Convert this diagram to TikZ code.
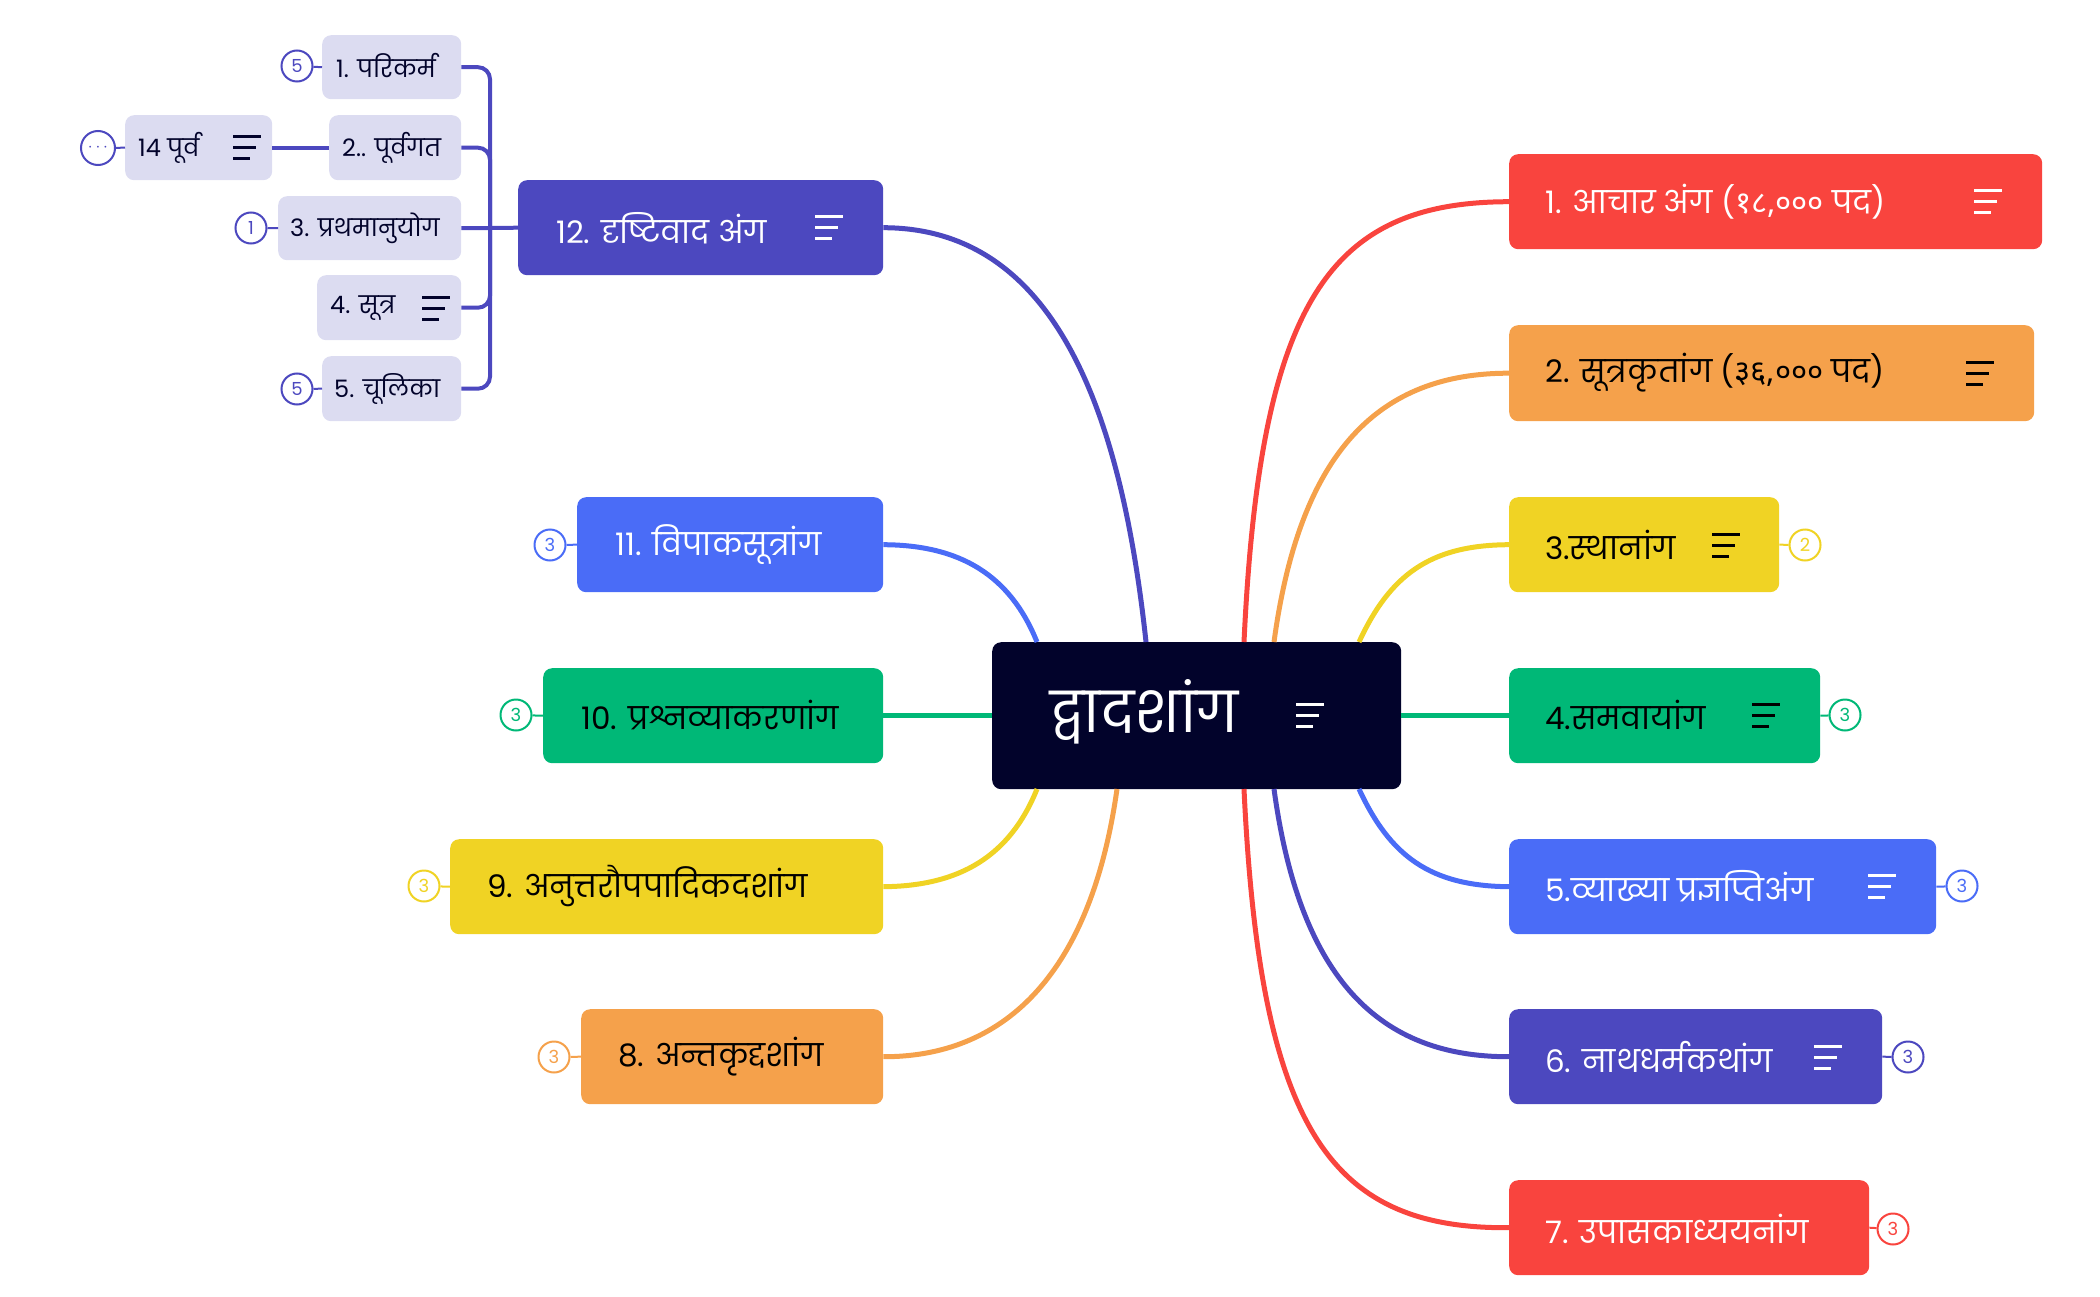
\documentclass[tikz,border=0pt]{standalone}
\usepackage{fontspec}
\setmainfont[Script=Devanagari]{Poppins}
\newfontfamily\devnum[Script=Devanagari]{Noto Sans}
\definecolor{cred}{HTML}{F9443E}
\definecolor{corange}{HTML}{F5A14B}
\definecolor{cyellow}{HTML}{F0D324}
\definecolor{cgreen}{HTML}{00B877}
\definecolor{cblue}{HTML}{4A6CF7}
\definecolor{cindigo}{HTML}{4C48BF}
\definecolor{cnavy}{HTML}{02032B}
\definecolor{csub}{HTML}{DCDCF1}
\tikzset{
  box/.style={fill=#1, draw=none, rounded corners=9pt, inner sep=0pt, anchor=north west},
  lbl/.style={anchor=west, inner sep=0pt, text=#1, font=\fontsize{31}{36}\selectfont},
  slbl/.style={anchor=west, inner sep=0pt, text=cnavy, font=\fontsize{24}{28}\selectfont},
  badge/.style={circle, draw=#1, fill=white, line width=2pt, minimum size=31pt, inner sep=0pt, text=#1, font=\fontsize{18}{20}\selectfont},
  conn/.style={draw=#1, line width=5pt},
  sconn/.style={draw=cindigo, line width=4pt, rounded corners=12pt},
}
\newcommand{\menuic}[3]{% x y colour
  \draw[#3, line width=3pt] (#1-14,#2-11) -- (#1+14,#2-11) (#1-14,#2) -- (#1+9,#2) (#1-14,#2+11) -- (#1+3,#2+11);}
\begin{document}
\begin{tikzpicture}[x=1pt,y=-1pt]
\useasboundingbox (0,0) rectangle (2100,1297);
\node[box=cnavy, minimum width=409pt, minimum height=147pt] (c) at (992,642) {};
\node[box=cred, minimum width=533pt, minimum height=95pt] (r1) at (1509,154) {};
\node[box=corange, minimum width=525pt, minimum height=96pt] (r2) at (1509,325) {};
\node[box=cyellow, minimum width=270pt, minimum height=95pt] (r3) at (1509,497) {};
\node[box=cgreen, minimum width=311pt, minimum height=95pt] (r4) at (1509,668) {};
\node[box=cblue, minimum width=427pt, minimum height=95pt] (r5) at (1509,839) {};
\node[box=cindigo, minimum width=373pt, minimum height=95pt] (r6) at (1509,1009) {};
\node[box=cred, minimum width=360pt, minimum height=95pt] (r7) at (1509,1180) {};
\node[box=cindigo, minimum width=365pt, minimum height=95pt] (l12) at (518,180) {};
\node[box=cblue, minimum width=306pt, minimum height=95pt] (l11) at (577,497) {};
\node[box=cgreen, minimum width=340pt, minimum height=95pt] (l10) at (543,668) {};
\node[box=cyellow, minimum width=433pt, minimum height=95pt] (l9) at (450,839) {};
\node[box=corange, minimum width=302pt, minimum height=95pt] (l8) at (581,1009) {};
\node[box=csub, minimum width=139pt, minimum height=64pt] (s1) at (322,35) {};
\node[box=csub, minimum width=132pt, minimum height=65pt] (s2) at (329,115) {};
\node[box=csub, minimum width=147pt, minimum height=65pt] (s14) at (125,115) {};
\node[box=csub, minimum width=183pt, minimum height=64pt] (s3) at (278,196) {};
\node[box=csub, minimum width=144pt, minimum height=65pt] (s4) at (317,275) {};
\node[box=csub, minimum width=139pt, minimum height=65pt] (s5) at (322,356) {};
\coordinate (ct1) at (1244,642); \coordinate (ct2) at (1274,642); \coordinate (ct3) at (1359,642);
\coordinate (cb5) at (1359,789); \coordinate (cb6) at (1274,789); \coordinate (cb7) at (1244,789);
\coordinate (ct12) at (1146,642); \coordinate (ct11) at (1037,642);
\coordinate (cb9) at (1037,789); \coordinate (cb8) at (1117,789);
\path[conn=cred] (ct1) .. controls (1260,300) and (1330,202) .. (r1.west);
\path[conn=corange] (ct2) .. controls (1300,450) and (1380,373) .. (r2.west);
\path[conn=cyellow] (ct3) .. controls (1390,575) and (1430,545) .. (r3.west);
\path[conn=cgreen] (c.east) -- (r4.west);
\path[conn=cblue] (cb5) .. controls (1390,856) and (1430,886) .. (r5.west);
\path[conn=cindigo] (cb6) .. controls (1300,980) and (1380,1057) .. (r6.west);
\path[conn=cred] (cb7) .. controls (1260,1130) and (1330,1229) .. (r7.west);
\path[conn=cindigo] (ct12) .. controls (1120,400) and (1050,228) .. (l12.east);
\path[conn=cblue] (ct11) .. controls (1010,575) and (960,545) .. (l11.east);
\path[conn=cgreen] (c.west) -- (l10.east);
\path[conn=cyellow] (cb9) .. controls (1010,856) and (960,886) .. (l9.east);
\path[conn=corange] (cb8) .. controls (1090,980) and (1000,1057) .. (l8.east);
\coordinate (j) at (490,228);
\draw[sconn] (l12.west) -- (j);
\draw[sconn] (s1.east) -| (j);
\draw[sconn] (s2.east) -| (j);
\draw[sconn] (s3.east) -- (j);
\draw[sconn] (s4.east) -| (j);
\draw[sconn] (s5.east) -| (j);
\draw[sconn] (s14.east) -- (s2.west);
\node[anchor=west, inner sep=0pt, text=white, font=\fontsize{56}{62}\selectfont] (ct) at (1050,712) {द्वादशांग};
\menuic{1310}{715}{white}
\node[lbl=white] (t1) at (1545,202) {1. आचार अंग ({\devnum १८,०००} पद)}; \menuic{1988}{202}{white}
\node[lbl=black] (t2) at (1545,373) {2. सूत्रकृतांग ({\devnum ३६,०००} पद)}; \menuic{1980}{373}{black}
\node[lbl=black] (t3) at (1545,545) {3.स्थानांग}; \menuic{1726}{545}{black}
\node[lbl=black] (t4) at (1545,715) {4.समवायांग}; \menuic{1766}{715}{black}
\node[lbl=white] (t5) at (1545,886) {5.व्याख्या प्रज्ञप्तिअंग}; \menuic{1882}{886}{white}
\node[lbl=white] (t6) at (1545,1057) {6. नाथधर्मकथांग}; \menuic{1828}{1057}{white}
\node[lbl=white] (t7) at (1545,1229) {7. उपासकाध्ययनांग};
\node[lbl=white] (t12) at (556,228) {12. दृष्टिवाद अंग}; \menuic{829}{228}{white}
\node[lbl=white] (t11) at (615,545) {11. विपाकसूत्रांग};
\node[lbl=black] (t10) at (581,715) {10. प्रश्नव्याकरणांग};
\node[lbl=black] (t9) at (487,886) {9. अनुत्तरौपपादिकदशांग};
\node[lbl=black] (t8) at (618,1057) {8. अन्तकृद्दशांग};
\node[slbl] (u1) at (336,66) {1. परिकर्म};
\node[slbl] (u2) at (342,148) {2.. पूर्वगत};
\node[slbl] (u14) at (138,148) {14 पूर्व}; \menuic{247}{148}{cnavy}
\node[slbl] (u3) at (290,228) {3. प्रथमानुयोग};
\node[slbl] (u4) at (330,308) {4. सूत्र}; \menuic{436}{308}{cnavy}
\node[slbl] (u5) at (334,389) {5. चूलिका};
\node[badge=cyellow] (b3) at (1805,545) {2}; \draw[cyellow, line width=2pt] (r3.east) -- (b3);
\node[badge=cgreen] (b4) at (1845,715) {3}; \draw[cgreen, line width=2pt] (r4.east) -- (b4);
\node[badge=cblue] (b5) at (1962,886) {3}; \draw[cblue, line width=2pt] (r5.east) -- (b5);
\node[badge=cindigo] (b6) at (1908,1057) {3}; \draw[cindigo, line width=2pt] (r6.east) -- (b6);
\node[badge=cred] (b7) at (1893,1229) {3}; \draw[cred, line width=2pt] (r7.east) -- (b7);
\node[badge=cblue] (b11) at (550,545) {3}; \draw[cblue, line width=2pt] (l11.west) -- (b11);
\node[badge=cgreen] (b10) at (516,715) {3}; \draw[cgreen, line width=2pt] (l10.west) -- (b10);
\node[badge=cyellow] (b9) at (424,886) {3}; \draw[cyellow, line width=2pt] (l9.west) -- (b9);
\node[badge=corange] (b8) at (554,1057) {3}; \draw[corange, line width=2pt] (l8.west) -- (b8);
\node[badge=cindigo] (bs1) at (297,66) {5}; \draw[cindigo, line width=2pt] (s1.west) -- (bs1);
\node[badge=cindigo] (bs3) at (251,228) {1}; \draw[cindigo, line width=2pt] (s3.west) -- (bs3);
\node[badge=cindigo] (bs5) at (297,389) {5}; \draw[cindigo, line width=2pt] (s5.west) -- (bs5);
\node[badge=cindigo, minimum size=34pt] (bs14) at (98,148) {$\cdots$}; \draw[cindigo, line width=2pt] (s14.west) -- (bs14);
\end{tikzpicture}
\end{document}
